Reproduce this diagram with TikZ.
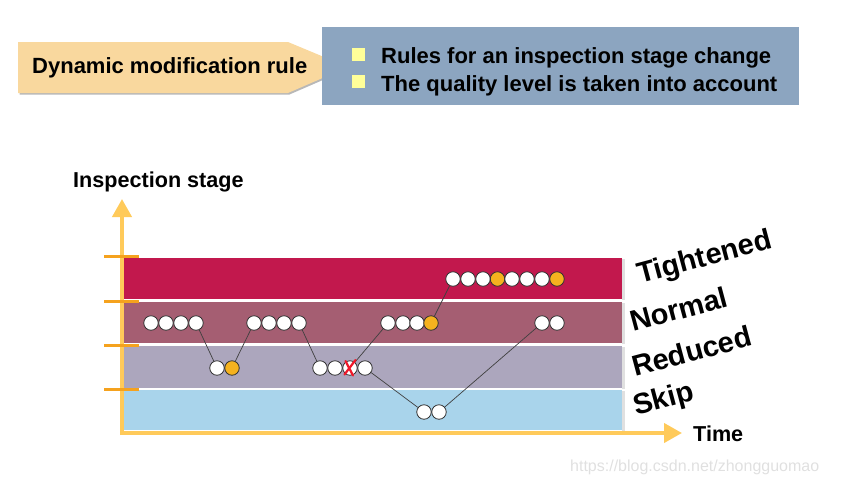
\documentclass[tikz,border=0pt]{standalone}
\usepackage{fontspec}
\setmainfont{Liberation Sans}
\usetikzlibrary{arrows.meta}
\definecolor{peach}{HTML}{F9D89E}
\definecolor{boxblue}{HTML}{8CA5C0}
\definecolor{sqyellow}{HTML}{FFFF99}
\definecolor{axisyellow}{HTML}{FFCA5A}
\definecolor{tickorange}{HTML}{F5A21E}
\definecolor{bandT}{HTML}{C2184D}
\definecolor{bandN}{HTML}{A55E72}
\definecolor{bandR}{HTML}{ACA6BD}
\definecolor{bandS}{HTML}{A9D4EB}
\definecolor{ballorange}{HTML}{F5B21F}
\definecolor{xred}{HTML}{F0182A}
\begin{document}
\begin{tikzpicture}[x=1pt,y=-1pt,
  toptxt/.style={anchor=base west, inner sep=0pt, font=\fontsize{22}{26}\selectfont\bfseries},
  axtxt/.style={anchor=base west, inner sep=0pt, font=\fontsize{21.6}{26}\selectfont\bfseries},
  lbl/.style={anchor=base west, inner sep=0pt, rotate=15, font=\fontsize{29}{34}\selectfont\bfseries},
  sq/.style={fill=sqyellow, minimum size=13pt, inner sep=0pt},
  ball/.style={circle, draw=black!80, fill=white, line width=0.8pt, minimum size=14.5pt, inner sep=0pt},
  oball/.style={ball, fill=ballorange},
  conn/.style={draw=black!75, line width=0.7pt},
  axisline/.style={draw=axisyellow, line width=4pt, -{Triangle[length=18pt,width=19pt]}},
  tickline/.style={draw=tickorange, line width=3pt},
  xmark/.style={draw=xred, line width=2.2pt, line cap=round}
]
\useasboundingbox (0,0) rectangle (860,491);

% header arrow
\fill[black!28] (19.5,43.5) -- (289.5,43.5) -- (349.5,68.5) -- (289.5,94.5) -- (19.5,94.5) -- cycle;
\fill[peach] (18,42) -- (288,42) -- (348,67) -- (288,93) -- (18,93) -- cycle;
\node[toptxt] (title) at (32,73) {Dynamic modification rule};

% blue box
\fill[boxblue] (322,27) rectangle (799,105);
\node[sq] (q1) at (358.5,54.5) {};
\node[sq] (q2) at (358.5,81.5) {};
\node[toptxt] (b1) at (381,63) {Rules for an inspection stage change};
\node[toptxt] (b2) at (381,91) {The quality level is taken into account};

% bands
\fill[black!12] (622,259) rectangle (625,300);
\fill[black!12] (622,303) rectangle (625,344);
\fill[black!12] (622,347) rectangle (625,389);
\fill[black!12] (622,391) rectangle (625,431);
\fill[bandT] (124,258) rectangle (622,299);
\fill[bandN] (124,302) rectangle (622,343);
\fill[bandR] (124,346) rectangle (622,388);
\fill[bandS] (124,390) rectangle (622,430);

% axes
\coordinate (oy) at (122,435);
\coordinate (ox) at (120,433);
\coordinate (ytip) at (122,199);
\coordinate (xtip) at (682,433);
\draw[axisline] (oy) -- (ytip);
\draw[axisline] (ox) -- (xtip);
\draw[tickline] (104,256) -- (139,256);
\draw[tickline] (104,301) -- (139,301);
\draw[tickline] (104,345) -- (139,345);
\draw[tickline] (104,389) -- (139,389);

\node[axtxt] (ylab) at (73,187) {Inspection stage};
\node[axtxt] (xlab) at (693,441) {Time};

% balls: normal row
\node[ball] (n1) at (151,323) {};
\node[ball] (n2) at (166,323) {};
\node[ball] (n3) at (181,323) {};
\node[ball] (n4) at (196,323) {};
\node[ball] (n5) at (254,323) {};
\node[ball] (n6) at (269,323) {};
\node[ball] (n7) at (284,323) {};
\node[ball] (n8) at (299,323) {};
\node[ball] (n9) at (388,323) {};
\node[ball] (n10) at (403,323) {};
\node[ball] (n11) at (417,323) {};
\node[oball] (n12) at (431,323) {};
\node[ball] (n13) at (542,323) {};
\node[ball] (n14) at (557,323) {};
% reduced row
\node[ball] (r1) at (217,368) {};
\node[oball] (r2) at (232,368) {};
\node[ball] (r3) at (320,368) {};
\node[ball] (r4) at (335,368) {};
\node[ball] (r5) at (350,368) {};
\node[ball] (r6) at (365,368) {};
% skip row
\node[ball] (s1) at (424,412) {};
\node[ball] (s2) at (439,412) {};
% tightened row
\node[ball] (t1) at (453,279) {};
\node[ball] (t2) at (468,279) {};
\node[ball] (t3) at (483,279) {};
\node[oball] (t4) at (497.5,279) {};
\node[ball] (t5) at (512,279) {};
\node[ball] (t6) at (527,279) {};
\node[ball] (t7) at (542,279) {};
\node[oball] (t8) at (557,279) {};

% connectors
\draw[conn] (n4) -- (r1);
\draw[conn] (r2) -- (n5);
\draw[conn] (n8) -- (r3);
\draw[conn] (r5) -- (n9);
\draw[conn] (r6) -- (s1);
\draw[conn] (s2) -- (n13);
\draw[conn] (n12) -- (t1);

% red cross
\draw[xmark] (344.5,374.5) -- (355.5,360);
\draw[xmark] (345.5,361) -- (353,375.5);

% stage labels
\node[lbl] (lT) at (640,284) {Tightened};
\node[lbl] (lN) at (633,332) {Normal};
\node[lbl] (lR) at (635,377) {Reduced};
\node[lbl] (lS) at (636,416) {Skip};

% watermark
\node[anchor=base west, inner sep=0pt, text=black!12, font=\fontsize{16}{19}\selectfont] (wm) at (570,471) {https://blog.csdn.net/zhongguomao};
\end{tikzpicture}
\end{document}
